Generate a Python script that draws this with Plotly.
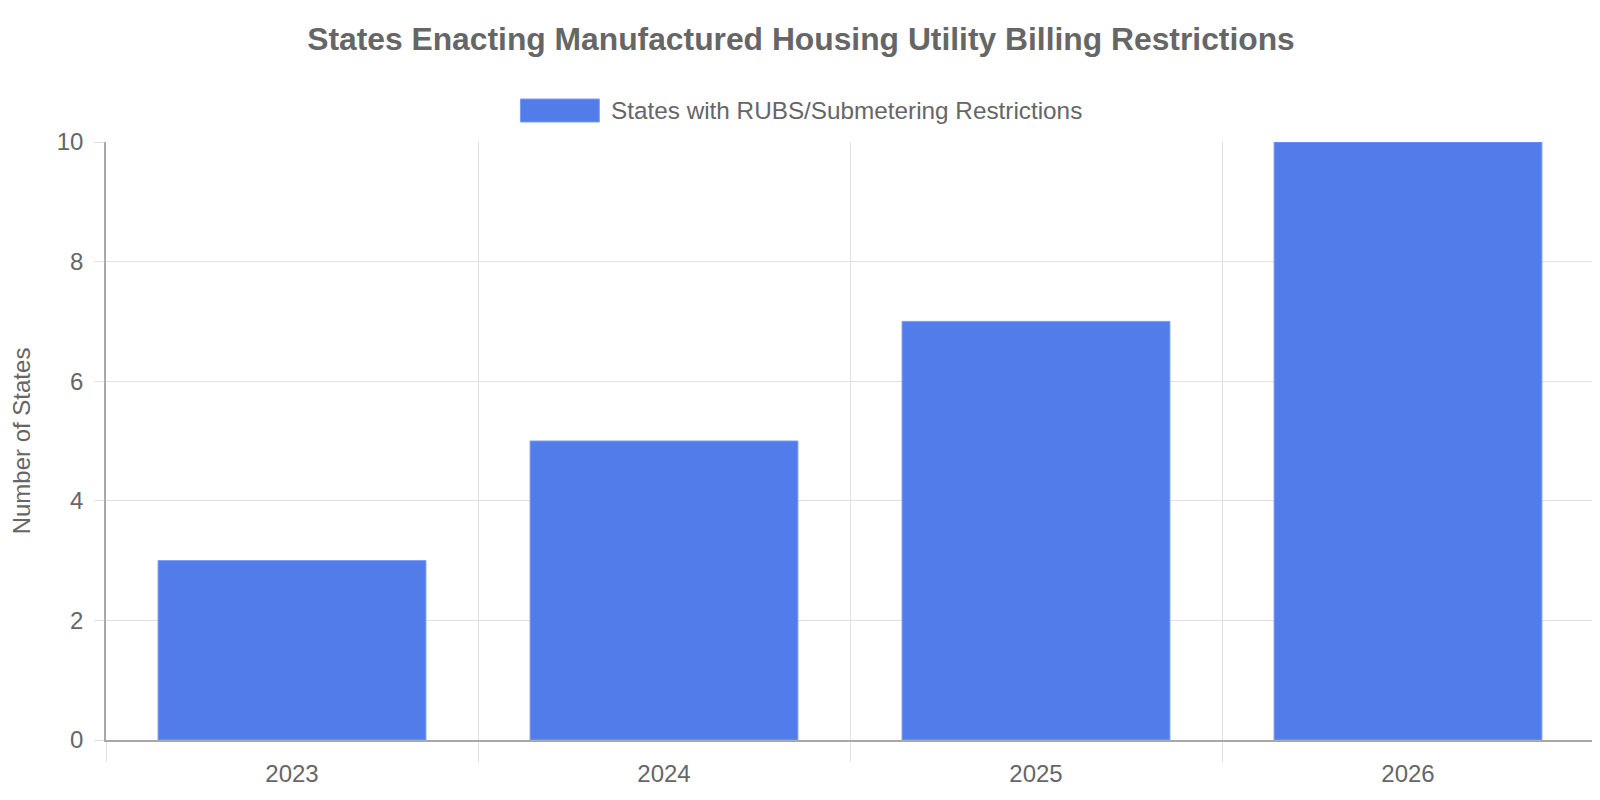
import plotly.graph_objects as go

years = ["2023", "2024", "2025", "2026"]
states = [3, 5, 7, 10]
series_name = "States with RUBS/Submetering Restrictions"
title_text = "States Enacting Manufactured Housing Utility Billing Restrictions"
y_title = "Number of States"

FONT = "Liberation Sans, Arial, sans-serif"
TXT = "#666666"
GRID = "#e1e1e1"
AXIS = "#a8a8a8"
BAR = "#537CEB"
BAR_LINE = "#7C9CF0"

fig = go.Figure()
fig.add_trace(go.Bar(
    x=years, y=states, name=series_name,
    marker=dict(color=BAR, line=dict(color=BAR_LINE, width=1)),
    showlegend=False,
))

L, R, T, B = 96, 14, 134, 68
W, H = 1600, 800
pw, ph = W - L - R, H - T - B

def px_x(p):
    return (p - L) / pw

def px_y(p):
    return (H - B - p) / ph

fig.update_layout(
    width=W, height=H,
    margin=dict(l=L, r=R, t=T, b=B),
    paper_bgcolor="white", plot_bgcolor="white",
    font=dict(family=FONT, color=TXT, size=24),
    title=dict(text="<b>" + title_text + "</b>", x=793 / W, xanchor="center",
               y=1 - 31 / H, yanchor="middle", yref="container",
               font=dict(size=31.8, color=TXT, family=FONT)),
    bargap=0.28,
    xaxis=dict(type="category", tickson="boundaries", ticks="outside", ticklen=20,
               tickcolor=GRID, showgrid=True, gridcolor=GRID, gridwidth=1,
               showline=True, linecolor=AXIS, linewidth=1.5,
               ticklabelstandoff=11,
               tickfont=dict(size=24, color=TXT)),
    yaxis=dict(range=[0, 10], dtick=2, ticks="outside", ticklen=10, tickcolor=GRID,
               showgrid=True, gridcolor=GRID, zeroline=False,
               showline=True, linecolor=AXIS, linewidth=1.5,
               ticklabelstandoff=6,
               tickfont=dict(size=24, color=TXT),
               title=dict(text=y_title, font=dict(size=24, color=TXT), standoff=20)),
    showlegend=False,
)

fig.add_shape(type="rect", xref="paper", yref="paper",
              x0=px_x(511), x1=px_x(590), y0=px_y(114), y1=px_y(91),
              fillcolor=BAR, line=dict(color=BAR_LINE, width=1))
fig.add_annotation(xref="paper", yref="paper", x=px_x(600), y=px_y(102),
                   xanchor="left", yanchor="middle", showarrow=False,
                   text=series_name, font=dict(size=24.3, color=TXT, family=FONT))

fig.write_html("out.html")
